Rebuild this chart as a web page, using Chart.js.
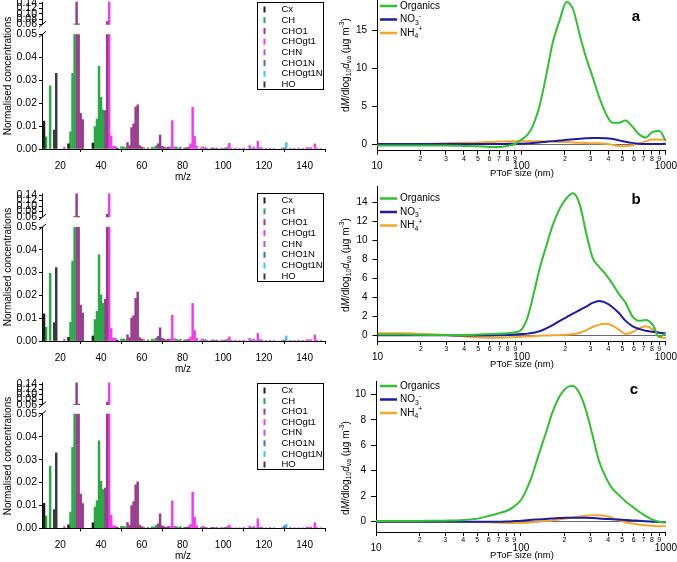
<!DOCTYPE html>
<html>
<head>
<meta charset="utf-8">
<script src="https://cdn.jsdelivr.net/npm/chart.js@4/dist/chart.umd.min.js"></script>
<style>
html,body{margin:0;padding:0;background:#fff;width:677px;height:562px;overflow:hidden;position:relative}
canvas{position:absolute;left:0}
</style>
</head>
<body>
<script>
// ================= DATA: mass spectra =================
const families = ['Cx','CH','CHO1','CHOgt1','CHN','CHO1N','CHOgt1N','HO'];
const familyColors = ['#1e1e1e','#2aa846','#9a3a8d','#f23cf0','#b45be0','#3a78a8','#40c8ea','#3a3a3a'];

const mzCx      = [12, 24, 36, 48];
const mzCH      = [13, 15, 25, 26, 27, 37, 38, 39, 40, 41, 50, 51, 52, 63, 65, 66, 67, 77, 78, 79, 91, 101];
const mzCHO1    = [28, 29, 30, 31, 42, 43, 53, 54, 55, 56, 57, 58, 59, 60, 68, 69, 70, 71, 72, 73, 81, 82, 83, 95, 97];
const mzCHOgt1  = [22, 44, 45, 46, 47, 61, 74, 75, 76, 84, 85, 86, 87, 89, 90, 99, 102, 103, 104, 113, 115, 117, 118, 119, 129, 141, 142, 143, 145, 146];
const mzCHN     = [92, 94, 96, 106, 108, 110, 121, 123, 125, 133, 135, 137, 139, 148];
const mzCHO1N   = [100, 114, 130];
const mzCHOgt1N = [116, 131];
const mzHO      = [17, 18];

// panel a (top)
const aCx      = [0.0122, 0.0023, 0.0026, 0.0004];
const aCH      = [0.0053, 0.0275, 0.0075, 0.033, 0.062, 0.0098, 0.013, 0.036, 0.0225, 0.017, 0.0009, 0.0009, 0.0006, 0.0005, 0.0007, 0.0006, 0.0014, 0.0008, 0.0004, 0.0008, 0.0006, 0.0005];
const aCHO1    = [0.15, 0.062, 0.0155, 0.0128, 0.0168, 0.070, 0.0028, 0.0015, 0.0093, 0.011, 0.0183, 0.0193, 0.0015, 0.0008, 0.0022, 0.0061, 0.0012, 0.0008, 0.0005, 0.0008, 0.0005, 0.0005, 0.0008, 0.0005, 0.0004];
const aCHOgt1  = [0.0008, 0.15, 0.0057, 0.0012, 0.0012, 0.0006, 0.0008, 0.0124, 0.001, 0.0022, 0.0182, 0.0054, 0.0012, 0.0005, 0.0009, 0.0004, 0.0008, 0.0025, 0.0004, 0.0015, 0.0008, 0.0033, 0.0006, 0.0005, 0.0004, 0.0006, 0.0005, 0.0006, 0.0022, 0.0004];
const aCHN     = [0.0004, 0.0004, 0.0003, 0.0004, 0.0003, 0.0004, 0.0003, 0.0004, 0.0003, 0.0004, 0.0003, 0.0004, 0.0003, 0.0003];
const aCHO1N   = [0.0003, 0.0004, 0.0005];
const aCHOgt1N = [0.0004, 0.0028];
const aHO      = [0.0083, 0.033];

// panel b (middle)
const bCx      = [0.0119, 0.0016, 0.0022, 0.0004];
const bCH      = [0.006, 0.0297, 0.0082, 0.035, 0.062, 0.0094, 0.013, 0.0378, 0.0202, 0.0165, 0.0009, 0.0009, 0.0006, 0.0005, 0.0007, 0.0006, 0.0013, 0.0008, 0.0004, 0.0008, 0.0006, 0.0005];
const bCHO1    = [0.15, 0.062, 0.0157, 0.0123, 0.0183, 0.070, 0.0027, 0.0015, 0.0101, 0.0111, 0.0187, 0.0215, 0.0015, 0.0008, 0.002, 0.0058, 0.0012, 0.0008, 0.0005, 0.0008, 0.0005, 0.0005, 0.0008, 0.0005, 0.0004];
const bCHOgt1  = [0.0008, 0.15, 0.0055, 0.0012, 0.0012, 0.0006, 0.0008, 0.0113, 0.001, 0.0018, 0.0165, 0.0046, 0.0012, 0.0005, 0.0009, 0.0004, 0.0008, 0.0018, 0.0004, 0.0012, 0.0008, 0.0033, 0.0006, 0.0005, 0.0004, 0.0006, 0.0005, 0.0006, 0.0027, 0.0004];
const bCHN     = [0.0004, 0.0003, 0.0003, 0.0004, 0.0003, 0.0004, 0.0003, 0.0004, 0.0003, 0.0003, 0.0003, 0.0004, 0.0003, 0.0003];
const bCHO1N   = [0.0003, 0.0004, 0.0004];
const bCHOgt1N = [0.0004, 0.0022];
const bHO      = [0.008, 0.0322];

// panel c (bottom)
const cCx      = [0.011, 0.0016, 0.0025, 0.0004];
const cCH      = [0.0054, 0.0271, 0.0071, 0.0353, 0.062, 0.0093, 0.0122, 0.0382, 0.0206, 0.0169, 0.0009, 0.0009, 0.0006, 0.0005, 0.0007, 0.0006, 0.0014, 0.0008, 0.0004, 0.0008, 0.0006, 0.0005];
const cCHO1    = [0.15, 0.062, 0.015, 0.0108, 0.0176, 0.070, 0.0026, 0.0015, 0.01, 0.0117, 0.019, 0.0203, 0.0015, 0.0008, 0.002, 0.0064, 0.0012, 0.0008, 0.0005, 0.0008, 0.0005, 0.0005, 0.0008, 0.0005, 0.0004];
const cCHOgt1  = [0.0008, 0.15, 0.0058, 0.0012, 0.0012, 0.0006, 0.0008, 0.0121, 0.001, 0.0018, 0.0159, 0.005, 0.0012, 0.0005, 0.0009, 0.0004, 0.0008, 0.0015, 0.0004, 0.001, 0.0008, 0.0042, 0.0006, 0.0005, 0.0004, 0.0006, 0.0005, 0.0006, 0.0026, 0.0004];
const cCHN     = [0.0004, 0.0004, 0.0003, 0.0003, 0.0003, 0.0004, 0.0003, 0.0004, 0.0003, 0.0004, 0.0003, 0.0003, 0.0003, 0.0003];
const cCHO1N   = [0.0003, 0.0004, 0.0012];
const cCHOgt1N = [0.0004, 0.0018];
const cHO      = [0.0082, 0.033];

const mzTicks = [20, 40, 60, 80, 100, 120, 140];
const yTicksLow = [0, 0.01, 0.02, 0.03, 0.04, 0.05];
const yTicksHigh = [0.06, 0.08, 0.10, 0.12, 0.14];

// ================= DATA: size distributions =================
const seriesNames = ['Organics', 'NO3-', 'NH4+'];
const seriesColors = ['#30c030', '#1c1ca8', '#f5a52a'];
const sizeDia = [10, 15, 20, 30, 40, 50, 60, 70, 80, 90, 100, 110, 120, 133, 148, 164, 184, 205, 228, 253, 280, 310, 345, 384, 427, 474, 526, 585, 650, 725, 810, 900, 1000];

const aOrg = [-0.2, -0.2, -0.2, -0.2, -0.25, -0.3, -0.38, -0.4, -0.25, 0.0, 0.6, 1.2, 2.4, 4.9, 8.9, 13.2, 16.3, 18.7, 17.7, 14.4, 11.4, 8.9, 6.2, 4.0, 2.8, 2.8, 3.1, 2.3, 1.3, 0.85, 1.6, 1.7, 0.4];
const aNO3 = [0, 0, 0, 0, 0, 0, 0, 0, 0.02, 0.03, 0.05, 0.08, 0.12, 0.2, 0.3, 0.38, 0.45, 0.55, 0.62, 0.7, 0.76, 0.8, 0.8, 0.75, 0.65, 0.48, 0.3, 0.15, 0.05, 0.0, 0.0, 0.0, 0.05];
const aNH4 = [-0.1, -0.05, 0.0, 0.1, 0.15, 0.2, 0.28, 0.32, 0.35, 0.35, 0.35, 0.35, 0.35, 0.35, 0.33, 0.3, 0.28, 0.25, 0.2, 0.15, 0.12, 0.1, 0.1, 0.05, -0.1, -0.25, -0.3, -0.15, 0.05, 0.35, 0.6, 0.6, 0.55];

const bOrg = [0.05, 0.05, 0.03, 0.0, 0.0, 0.05, 0.1, 0.15, 0.2, 0.3, 0.6, 1.9, 4.1, 7.0, 9.4, 11.6, 13.4, 14.5, 15.0, 13.8, 10.8, 8.2, 7.2, 6.4, 5.4, 4.3, 3.4, 2.0, 1.5, 1.6, 1.1, -0.2, 0.2];
const bNO3 = [-0.02, -0.02, -0.02, -0.03, -0.05, -0.05, -0.04, -0.02, 0.0, 0.05, 0.1, 0.15, 0.25, 0.4, 0.7, 1.05, 1.5, 1.9, 2.3, 2.65, 3.0, 3.4, 3.6, 3.4, 2.95, 2.3, 1.5, 0.95, 0.65, 0.45, 0.35, 0.25, 0.18];
const bNH4 = [0.18, 0.18, 0.12, 0.0, -0.15, -0.25, -0.28, -0.28, -0.25, -0.22, -0.18, -0.15, -0.12, -0.08, -0.05, -0.02, 0.0, 0.03, 0.1, 0.25, 0.5, 0.85, 1.1, 1.2, 1.0, 0.55, 0.12, 0.3, 0.7, 0.92, 0.6, -0.2, -0.35];

const cOrg = [0.05, 0.05, 0.06, 0.08, 0.13, 0.24, 0.45, 0.65, 0.86, 1.2, 1.7, 2.6, 3.7, 5.3, 6.9, 8.5, 9.8, 10.5, 10.68, 10.1, 8.8, 6.9, 4.8, 3.5, 2.6, 2.1, 1.6, 1.2, 0.8, 0.45, 0.15, 0.0, -0.05];
const cNO3 = [0, 0, 0, 0, 0, 0, 0, 0, 0.02, 0.05, 0.08, 0.12, 0.15, 0.18, 0.22, 0.25, 0.28, 0.3, 0.3, 0.3, 0.3, 0.28, 0.25, 0.22, 0.2, 0.17, 0.13, 0.1, 0.07, 0.03, 0.0, -0.03, -0.05];
const cNH4 = [0, 0, 0, 0, 0, -0.02, -0.05, -0.08, -0.1, -0.1, -0.1, -0.08, -0.05, 0.0, 0.05, 0.1, 0.18, 0.25, 0.33, 0.4, 0.47, 0.5, 0.5, 0.45, 0.3, 0.12, -0.05, -0.15, -0.22, -0.28, -0.32, -0.35, -0.35];

const sizeTicks = [10, 20, 30, 40, 50, 60, 70, 80, 90, 100, 200, 300, 400, 500, 600, 700, 800, 900, 1000];
const aYTicks = [0, 5, 10, 15];
const bYTicks = [0, 2, 4, 6, 8, 10, 12, 14];
const cYTicks = [0, 2, 4, 6, 8, 10];

// ================= rendering =================
const FONT = '"Liberation Sans", Arial, Helvetica, sans-serif';
Chart.defaults.font.family = FONT;
Chart.defaults.color = '#000';
const W = 677, Hpg = 562;
const OFF = 20;            // canvases extend OFF px above and below the page
const CH_H = Hpg + 2 * OFF;

function makeCanvas() {
  const c = document.createElement('canvas');
  c.width = W; c.height = CH_H;
  c.style.width = W + 'px'; c.style.height = CH_H + 'px';
  c.style.top = (-OFF) + 'px';
  document.body.appendChild(c);
  return c;
}

function drawRich(ctx, parts, x, y, size, align, angle) {
  ctx.save();
  ctx.translate(x, y);
  if (angle) ctx.rotate(angle);
  const fontOf = p => (p.i ? 'italic ' : '') + (p.b ? 'bold ' : '') + (p.s ? size * 0.68 : size) + 'px ' + FONT;
  let total = 0;
  const widths = parts.map(p => { ctx.font = fontOf(p); const w = ctx.measureText(p.t).width; total += w; return w; });
  let cx = align === 'center' ? -total / 2 : (align === 'right' ? -total : 0);
  ctx.textBaseline = 'middle';
  ctx.textAlign = 'left';
  ctx.fillStyle = '#000';
  parts.forEach((p, k) => {
    ctx.font = fontOf(p);
    const dy = p.s === 'sub' ? size * 0.32 : (p.s === 'sup' ? -size * 0.38 : 0);
    ctx.fillText(p.t, cx, dy);
    cx += widths[k];
  });
  ctx.restore();
}

const familyMz = [mzCx, mzCH, mzCHO1, mzCHOgt1, mzCHN, mzCHO1N, mzCHOgt1N, mzHO];

function spectrumChart(g, values) {
  const pxPer = (g.y06 - g.y14) / 0.08;
  const y2min = 0.06 - (g.y05 - g.y06) / pxPer;
  const top = g.y14 - 1.5;
  const y2max = 0.14 + 1.5 / pxPer;
  const lowerH = g.y0 - g.y05, upperH = g.y05 - top;
  const XH = 30;
  const datasets = [];
  families.forEach((f, i) => {
    const v = values[i];
    datasets.push({
      label: f, yAxisID: 'y', xAxisID: 'x',
      data: familyMz[i].map((m, k) => ({x: m, y: Math.min(v[k], 0.05)})),
      backgroundColor: familyColors[i], borderWidth: 0, barThickness: 1.8, grouped: false
    });
  });
  families.forEach((f, i) => {
    const v = values[i];
    const up = [];
    familyMz[i].forEach((m, k) => { if (v[k] > 0.05) up.push({x: m, y: [0.06, v[k]]}); });
    if (up.length) datasets.push({
      label: f + ' upper', yAxisID: 'y2', xAxisID: 'x', data: up,
      backgroundColor: familyColors[i], borderWidth: 0, barThickness: 1.8, grouped: false
    });
  });
  const deco = {
    id: 'deco',
    afterDraw(chart) {
      const ctx = chart.ctx;
      const ca = chart.chartArea;
      const ys = chart.scales.y, y2 = chart.scales.y2;
      const left = Math.round(ca.left) + 0.5;
      ctx.save();
      ctx.strokeStyle = '#000'; ctx.lineWidth = 1;
      const p06 = y2.getPixelForValue(0.06);
      ctx.beginPath(); ctx.moveTo(left, p06); ctx.lineTo(left, ca.top); ctx.stroke();
      // axis break marks
      [ys.top, p06].forEach(yy => {
        ctx.beginPath(); ctx.moveTo(left - 3.5, yy + 3); ctx.lineTo(left + 3.5, yy - 3); ctx.stroke();
      });
      // page-coordinate decorations
      ctx.translate(0, OFF);
      ctx.strokeStyle = '#000'; ctx.lineWidth = 1;
      ctx.strokeRect(257.5, g.legTop + 0.5, 66, g.legBot - g.legTop);
      const step = (g.legBot - g.legTop - 12) / 7;
      families.forEach((f, i) => {
        const yy = g.legTop + 7.5 + i * step;
        ctx.fillStyle = familyColors[i];
        ctx.fillRect(263.5, yy - 3, 2, 6);
        ctx.fillStyle = '#000';
        ctx.font = '9.5px ' + FONT;
        ctx.textBaseline = 'middle'; ctx.textAlign = 'left';
        ctx.fillText(f, 281.5, yy);
      });
      drawRich(ctx, [{t: 'Normalised concentrations'}], 8, g.yTitleCY, 10, 'center', -Math.PI / 2);
      drawRich(ctx, [{t: 'm/z'}], 183, g.y0 + 28, 10, 'center', 0);
      ctx.restore();
    }
  };
  const tickFmt = v => Number(v).toFixed(2);
  return new Chart(makeCanvas(), {
    type: 'bar',
    data: {datasets},
    plugins: [deco],
    options: {
      responsive: false, animation: false, devicePixelRatio: 1, events: [],
      layout: {padding: {left: 0, top: top + OFF, right: W - 325, bottom: CH_H - (g.y0 + OFF) - XH}},
      plugins: {legend: {display: false}, tooltip: {enabled: false}},
      scales: {
        x: {
          type: 'linear', min: 11, max: 150, offset: false, position: 'bottom',
          afterBuildTicks: s => { s.ticks = mzTicks.map(v => ({value: v})); },
          afterFit: s => { s.height = XH; },
          grid: {display: true, drawOnChartArea: false, drawTicks: true, tickLength: 3, color: '#000', tickColor: '#000'},
          border: {display: true, color: '#000', width: 1},
          ticks: {font: {size: 10}, padding: 8, maxRotation: 0, autoSkip: false, color: '#000'}
        },
        y: {
          type: 'linear', min: 0, max: 0.05, stack: 'left', stackWeight: lowerH, position: 'left', offset: false,
          afterBuildTicks: s => { s.ticks = yTicksLow.map(v => ({value: v})); },
          afterFit: s => { s.width = 42; },
          grid: {display: true, drawOnChartArea: false, tickLength: 3, color: '#000', tickColor: '#000'},
          border: {display: true, color: '#000', width: 1},
          ticks: {font: {size: 10.5}, padding: 2, autoSkip: false, callback: tickFmt, color: '#000'}
        },
        y2: {
          type: 'linear', min: y2min, max: y2max, stack: 'left', stackWeight: upperH, position: 'left', offset: false,
          afterBuildTicks: s => { s.ticks = yTicksHigh.map(v => ({value: v})); },
          afterFit: s => { s.width = 42; },
          grid: {display: true, drawOnChartArea: false, tickLength: 3, color: '#000', tickColor: '#000'},
          border: {display: false},
          ticks: {font: {size: 10.5}, padding: 2, autoSkip: false, callback: tickFmt, color: '#000'}
        }
      }
    }
  });
}

const legendParts = [
  [{t: 'Organics'}],
  [{t: 'NO'}, {t: '3', s: 'sub'}, {t: '-', s: 'sup'}],
  [{t: 'NH'}, {t: '4', s: 'sub'}, {t: '+', s: 'sup'}]
];
const yTitleParts = [
  {t: 'd'}, {t: 'M', i: true}, {t: '/dlog'}, {t: '10', s: 'sub'}, {t: 'd', i: true}, {t: 'va', s: 'sub'},
  {t: ' (\u00b5g m'}, {t: '-3', s: 'sup'}, {t: ')'}
];

function sizeChart(g, series) {
  const XH = 30;
  const isMajor = v => Math.abs(Math.log10(v) - Math.round(Math.log10(v))) < 1e-9;
  const datasets = series.map((arr, i) => ({
    label: seriesNames[i],
    data: sizeDia.map((d, k) => ({x: d, y: arr[k]})),
    borderColor: seriesColors[i], backgroundColor: seriesColors[i],
    borderWidth: 2, pointRadius: 0, fill: false, cubicInterpolationMode: 'monotone'
  }));
  const deco = {
    id: 'deco2',
    afterDraw(chart) {
      const ctx = chart.ctx;
      ctx.save();
      ctx.translate(0, OFF);
      series.forEach((arr, i) => {
        const yy = g.legTop + i * 13.5;
        ctx.strokeStyle = seriesColors[i]; ctx.lineWidth = 2.5;
        ctx.beginPath(); ctx.moveTo(380, yy); ctx.lineTo(397, yy); ctx.stroke();
        drawRich(ctx, legendParts[i], 400, yy, 10, 'left', 0);
      });
      drawRich(ctx, yTitleParts, 346, g.yTitleCY, 10, 'center', -Math.PI / 2);
      drawRich(ctx, [{t: 'PToF size (nm)'}], 522, g.bottom + 23, 9.5, 'center', 0);
      drawRich(ctx, [{t: g.letter, b: true}], g.letterX, g.letterY, 15, 'center', 0);
      ctx.restore();
    }
  };
  return new Chart(makeCanvas(), {
    type: 'line',
    data: {datasets},
    plugins: [deco],
    options: {
      responsive: false, animation: false, devicePixelRatio: 1, events: [],
      layout: {padding: {left: 340, top: g.top + OFF, right: W - 666, bottom: CH_H - (g.bottom + OFF) - XH}},
      plugins: {legend: {display: false}, tooltip: {enabled: false}},
      scales: {
        x: {
          type: 'logarithmic', min: 10, max: 1000, position: 'bottom',
          afterBuildTicks: s => { s.ticks = sizeTicks.map(v => ({value: v})); },
          afterFit: s => { s.height = XH; },
          grid: {display: true, drawOnChartArea: false, tickLength: 4, color: '#000', tickColor: '#000'},
          border: {display: true, color: '#000', width: 1},
          ticks: {
            autoSkip: false, maxRotation: 0, padding: 0, color: '#000',
            callback: v => isMajor(v) ? ['', String(Math.round(v))] : String(Math.round(v / Math.pow(10, Math.floor(Math.log10(v) + 1e-9)))),
            font: c => (c.tick && isMajor(c.tick.value)) ? {size: 10, lineHeight: 0.8} : {size: 7, lineHeight: 1.2}
          }
        },
        y: {
          type: 'linear', min: g.ymin, max: g.ymax, position: 'left',
          afterBuildTicks: s => { s.ticks = g.yticks.map(v => ({value: v})); },
          afterFit: s => { s.width = g.left - 340; },
          grid: {
            display: true, drawOnChartArea: true, tickLength: 5, tickColor: '#000',
            color: c => (c.tick && c.tick.value === 0) ? '#6a6a6a' : 'rgba(0,0,0,0)'
          },
          border: {display: true, color: '#000', width: 1},
          ticks: {font: {size: 10}, padding: 5, autoSkip: false, color: '#000'}
        }
      }
    }
  });
}

// ---- left column ----
spectrumChart({y0: 149, y05: 34.3, y06: 24.3, y14: 3.3, yTitleCY: 76, legTop: 2, legBot: 89},
  [aCx, aCH, aCHO1, aCHOgt1, aCHN, aCHO1N, aCHOgt1N, aHO]);
spectrumChart({y0: 341, y05: 227, y06: 217, y14: 195, yTitleCY: 267, legTop: 193, legBot: 281},
  [bCx, bCH, bCHO1, bCHOgt1, bCHN, bCHO1N, bCHOgt1N, bHO]);
spectrumChart({y0: 528.5, y05: 413.7, y06: 404.7, y14: 384, yTitleCY: 456, legTop: 383, legBot: 469},
  [cCx, cCH, cCHO1, cCHOgt1, cCHN, cCHO1N, cCHOgt1N, cHO]);

// ---- right column ----
sizeChart({left: 377, top: 0, bottom: 150.7, ymin: -0.88, ymax: 18.95, yticks: aYTicks,
  yTitleCY: 65, legTop: 6, letter: 'a', letterX: 636, letterY: 17}, [aOrg, aNO3, aNH4]);
sizeChart({left: 377.5, top: 186, bottom: 341, ymin: -0.63, ymax: 15.77, yticks: bYTicks,
  yTitleCY: 265, legTop: 198.5, letter: 'b', letterX: 636, letterY: 200}, [bOrg, bNO3, bNH4]);
sizeChart({left: 376, top: 381.7, bottom: 532, ymin: -0.81, ymax: 10.99, yticks: cYTicks,
  yTitleCY: 468, legTop: 386, letter: 'c', letterX: 634, letterY: 390}, [cOrg, cNO3, cNH4]);
</script>
</body>
</html>
